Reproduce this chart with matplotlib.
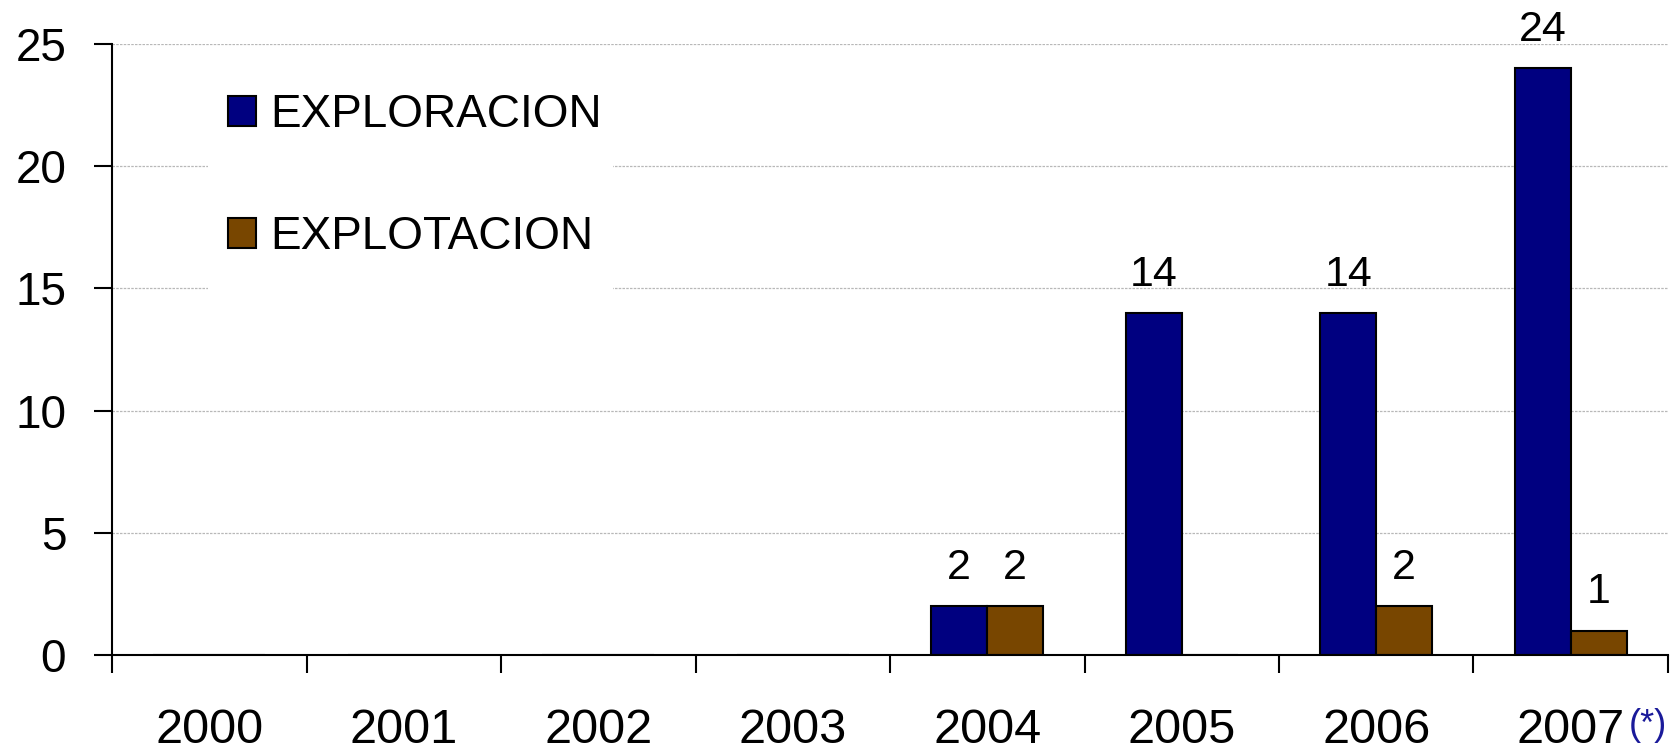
import matplotlib
matplotlib.use("Agg")
import matplotlib.pyplot as plt
from matplotlib.patches import Patch, Rectangle
from matplotlib.ticker import FixedLocator
import numpy as np

years = ["2000", "2001", "2002", "2003", "2004", "2005", "2006", "2007"]
exploracion = [0, 0, 0, 0, 2, 14, 14, 24]
explotacion = [0, 0, 0, 0, 2, 0, 2, 1]
series_names = ["EXPLORACION", "EXPLOTACION"]
colors = ["#000080", "#784600"]
yticks = [0, 5, 10, 15, 20, 25]

plt.rcParams['font.family'] = ['Liberation Sans', 'DejaVu Sans']

fig = plt.figure(figsize=(16.72, 7.52), dpi=100)
ax = fig.add_axes([0.067, 0.129, 0.9306, 0.8125])

x = np.arange(len(years))
w = 0.288
b1 = ax.bar(x - w / 2, exploracion, w, color=colors[0], edgecolor="black", linewidth=1.5, zorder=3)
b2 = ax.bar(x + w / 2, explotacion, w, color=colors[1], edgecolor="black", linewidth=1.5, zorder=3)

for bars, vals in ((b1, exploracion), (b2, explotacion)):
    for r, v in zip(bars, vals):
        if v:
            ax.annotate(str(v), (r.get_x() + r.get_width() / 2, v), xytext=(0, 13),
                        textcoords="offset points", ha="center", va="bottom", fontsize=31)

ax.set_xlim(-0.5, len(years) - 0.5)
ax.set_ylim(0, 25)
ax.set_yticks(yticks)
ax.set_xticks(x)
ax.set_xticklabels(years)
ax.xaxis.set_minor_locator(FixedLocator(np.arange(len(years) + 1) - 0.5))
ax.tick_params(axis="x", which="major", length=0, pad=38, labelsize=35)
ax.tick_params(axis="x", which="minor", length=13, width=1.5, direction="out")
ax.tick_params(axis="y", length=13, width=1.5, direction="out", pad=20, labelsize=33)

for s in ("top", "right"):
    ax.spines[s].set_visible(False)
for s in ("left", "bottom"):
    ax.spines[s].set_linewidth(1.5)
ax.spines["bottom"].set_zorder(4)

ax.yaxis.grid(True, color="#b8b8b8", linestyle=(0, (2, 1)), linewidth=0.9)
ax.set_axisbelow(True)

# white legend background covering the gridlines
ax.add_patch(Rectangle((0.0617, 0.581), 0.26, 0.393, transform=ax.transAxes,
                       facecolor="white", edgecolor="none", zorder=1.5))

handles = [Patch(facecolor=c, edgecolor="black", linewidth=1.5) for c in colors]
leg = fig.legend(handles, series_names, loc="upper left", bbox_to_anchor=(0.1364, 0.876),
                 frameon=False, fontsize=33, borderpad=0, borderaxespad=0,
                 handlelength=0.61, handleheight=0.61, handletextpad=0.3, labelspacing=1.7)

ax.annotate("(*)", xy=(7, 0), xycoords=("data", "axes fraction"), xytext=(42, -38),
            textcoords="offset points", ha="left", va="top", fontsize=26, color="#1a1a9a")

fig.savefig("out.png", dpi=100)
